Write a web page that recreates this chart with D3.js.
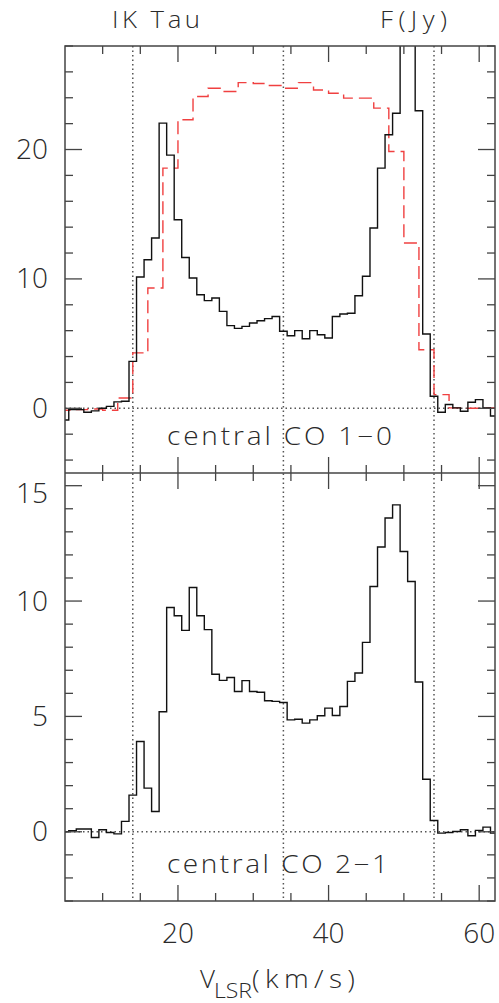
<!DOCTYPE html>
<html><head><meta charset="utf-8">
<script src="https://cdn.jsdelivr.net/npm/d3@7"></script>
<style>body{margin:0;background:#fff}</style>
</head><body><svg id="c" width="499" height="1003"></svg>
<script>
// ---------- data ----------
const chan10 = d3.range(5, 63);          // km/s, 1 km/s channels (CO 1-0 observed)
const co10 = [-0.9,-0.1,-0.1,-0.3,-0.2,0.0,0.15,0.5,0.55,3.63,
  10.15,11.48,13.16,22.04,19.57,14.57,11.66,10.07,8.78,8.32,
  8.52,7.49,6.39,6.18,6.33,6.59,6.77,6.93,7.1,5.95,
  5.61,6.0,5.38,6.0,5.69,5.43,7.1,7.29,7.35,8.7,
  10.2,13.93,18.56,21.14,22.8,31,33,23.0,5.74,0.93,
  -0.3,0.29,0.03,-0.23,0.47,0.67,0.03,-0.6];
const chanModel = d3.range(5, 64, 2);    // 2 km/s channels (red dashed)
const co10Model = [-0.15,-0.1,-0.05,-0.15,0.8,4.28,9.3,18.56,22.3,24.1,
  24.74,24.48,25.17,25.1,24.95,24.74,25.17,24.6,24.35,23.97,
  23.97,23.2,19.85,12.77,4.53,1.06,0.03,0.0,0.02,0.0];
const chan21 = d3.range(5, 63);
const co21 = [0.0,0.05,0.12,0.12,-0.25,0.09,-0.03,-0.09,0.45,1.59,
  3.91,1.89,0.88,5.2,9.72,9.36,8.73,10.59,9.36,8.76,
  6.83,6.56,6.69,6.08,6.55,6.08,6.05,5.68,5.65,5.6,
  4.85,4.88,4.71,4.85,5.03,5.36,5.04,5.43,6.52,6.88,
  8.21,10.63,12.34,13.6,14.17,12.15,10.85,6.49,2.28,0.49,
  -0.06,-0.03,0.01,0.09,-0.17,0.06,0.2,-0.06];
const vMarks = [14, 34, 54];
const xMajor = [20, 40, 60];
const yLabels10 = [0, 10, 20];
const yLabels21 = [0, 5, 10, 15];

// ---------- layout ----------
const L = 65, R = 495, T = 46, M = 473, B = 901;
const svg = d3.select('#c');
const x = d3.scaleLinear([5, 62.1], [L, R]);
const y1 = d3.scaleLinear([-5, 28], [M, T]);
const y2 = d3.scaleLinear([-3, 15.55], [B, M]);
const FONT = '"Open Sans", "DejaVu Sans", sans-serif';
const TXT = '#2a2a2a', AX = '#444';

const defs = svg.append('defs');
[['c1', T, M], ['c2', M, B]].forEach(([id, a, b]) => {
  defs.append('clipPath').attr('id', id).append('rect')
    .attr('x', L).attr('y', a).attr('width', R - L).attr('height', b - a);
});

function steps(ch, vals, w) {
  const p = [];
  ch.forEach((c, i) => { p.push([c - w / 2, vals[i]]); p.push([c + w / 2, vals[i]]); });
  return p;
}
const lineGen = ys => d3.line().x(d => x(d[0])).y(d => ys(d[1]));

// dotted reference lines
const dot = g => g.attr('stroke', '#555').attr('stroke-width', 1.5).attr('stroke-dasharray', '1.5,3').attr('fill', 'none');
vMarks.forEach(v => svg.append('line').attr('x1', x(v)).attr('x2', x(v)).attr('y1', T).attr('y2', B).call(dot));
[y1, y2].forEach(ys => svg.append('line').attr('x1', L).attr('x2', R).attr('y1', ys(0)).attr('y2', ys(0)).call(dot));

// spectra
svg.append('path').attr('clip-path', 'url(#c1)')
  .attr('d', lineGen(y1)(steps(chanModel, co10Model, 2)))
  .attr('fill', 'none').attr('stroke', '#f04040').attr('stroke-width', 1.4).attr('stroke-dasharray', '13,6');
svg.append('path').attr('clip-path', 'url(#c1)')
  .attr('d', lineGen(y1)(steps(chan10, co10, 1)))
  .attr('fill', 'none').attr('stroke', '#111').attr('stroke-width', 1.4);
svg.append('path').attr('clip-path', 'url(#c2)')
  .attr('d', lineGen(y2)(steps(chan21, co21, 1)))
  .attr('fill', 'none').attr('stroke', '#111').attr('stroke-width', 1.4);

// frames and ticks
function ticksX(yPos, dir) {
  d3.range(10, 62, 5).forEach(v => {
    const len = xMajor.includes(v) ? 16 : 8;
    svg.append('line').attr('x1', x(v)).attr('x2', x(v)).attr('y1', yPos).attr('y2', yPos + dir * len)
      .attr('stroke', AX).attr('stroke-width', 1.3);
  });
}
function ticksY(ys, lo, hi, step, major) {
  d3.range(lo, hi + 0.001, step).forEach(v => {
    const len = (Math.abs(v % major) < 1e-6) ? 17 : 8;
    [[L, 1], [R, -1]].forEach(([xp, d]) => {
      svg.append('line').attr('x1', xp).attr('x2', xp + d * len).attr('y1', ys(v)).attr('y2', ys(v))
        .attr('stroke', AX).attr('stroke-width', 1.3);
    });
  });
}
ticksX(T, 1); ticksX(M, -1); ticksX(M, 1); ticksX(B, -1);
ticksY(y1, -4, 28, 2, 10);
ticksY(y2, -3, 15, 1, 5);
svg.append('rect').attr('x', L).attr('y', T).attr('width', R - L).attr('height', B - T)
  .attr('fill', 'none').attr('stroke', AX).attr('stroke-width', 1.5);
svg.append('line').attr('x1', L).attr('x2', R).attr('y1', M).attr('y2', M).attr('stroke', AX).attr('stroke-width', 1.5);

// labels: slightly widened glyphs plus letter spacing up to the reference width
const SX = 1.12;
const txt = (s, xp, yp, opts = {}) => {
  const t = svg.append('text').text(s)
    .attr('font-family', FONT).attr('font-weight', 300).attr('font-size', opts.size || 25).attr('fill', TXT)
    .attr('text-anchor', opts.anchor || 'start');
  if (opts.len) {
    const w = t.node().getComputedTextLength();
    const sx = Math.min(SX, opts.len / w);
    t.attr('transform', `translate(${xp},${yp}) scale(${sx},1)`);
    if (opts.len / sx > w + 0.5) t.attr('textLength', opts.len / sx).attr('lengthAdjust', 'spacing');
  } else {
    t.attr('x', xp).attr('y', yp);
  }
  return t;
};
yLabels10.forEach(v => txt(String(v), 48, y1(v) + 9.5, { anchor: 'end', size: 28 }));
yLabels21.forEach(v => txt(String(v), 48, Math.max(y2(v) + 9.5, 503), { anchor: 'end', size: 28 }));
xMajor.forEach(v => txt(String(v), x(v), 943, { anchor: 'middle', size: 28 }));
txt('IK Tau', 112, 28, { len: 88, size: 23 });
txt('F(Jy)', 380, 28, { len: 67, size: 23 });
txt('central CO 1\u22120', 167, 445, { len: 225, size: 25 });
txt('central CO 2\u22121', 167, 873, { len: 221, size: 25 });
txt('V', 200, 988, { size: 25, len: 15 });
txt('LSR', 214, 998, { size: 21, len: 38 });
txt('(km/s)', 252, 988, { size: 25, len: 103 });
</script></body></html>
